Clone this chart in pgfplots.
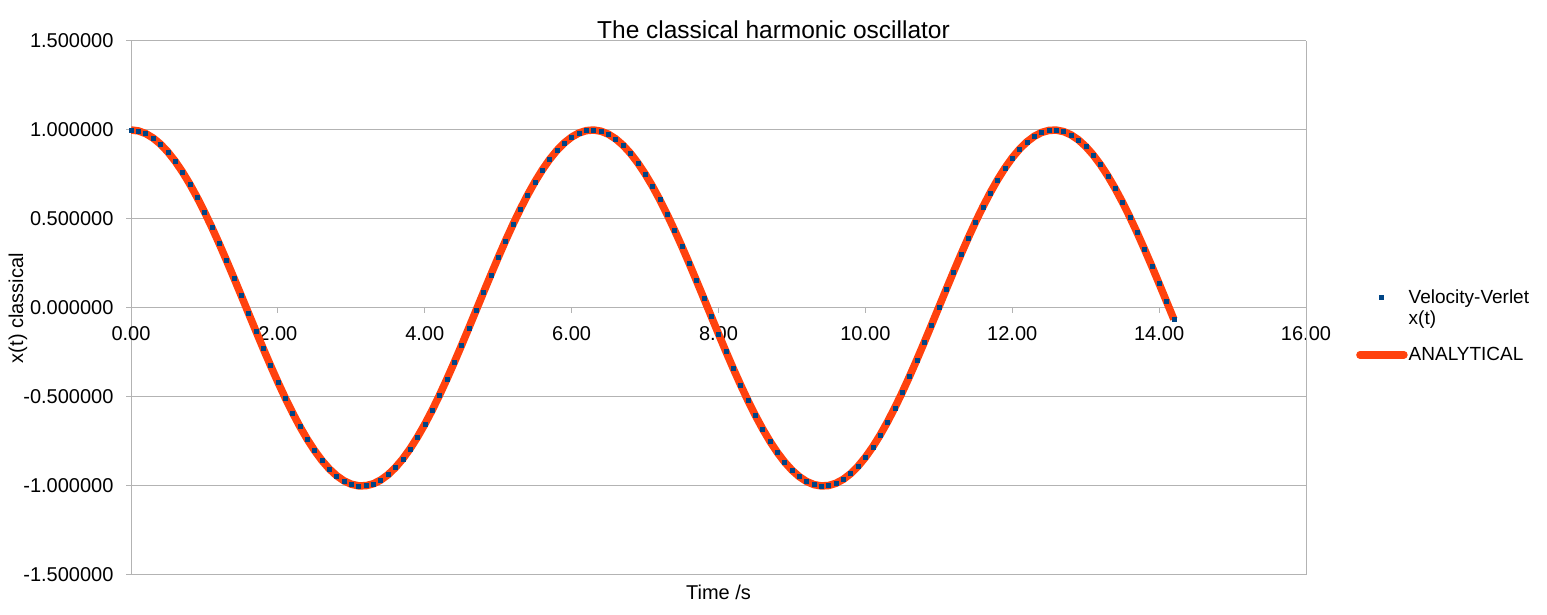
\documentclass[border=0pt]{standalone}
\usepackage{fontspec}
\setmainfont{Liberation Sans}
\usepackage{pgfplots}
\usepackage{pgfplotstable}
\pgfplotsset{compat=1.18}
\definecolor{vvblue}{HTML}{004586}
\definecolor{anorange}{HTML}{FF420E}
\definecolor{gridgray}{HTML}{B3B3B3}

\pgfplotsset{
    leganal/.style={legend image code/.code={\draw[##1, line cap=round] (0pt,0pt) -- (44pt,0pt);}},
    legverlet/.style={legend image code/.code={\path[draw=none] (0pt,0pt) -- (44pt,0pt);
        \draw[##1] plot coordinates {(21pt,11pt)};}},
}

% t, x(t) -- the Verlet points and the analytical curve coincide at this scale
\pgfplotstableread{
t x
0.0 1.0000
0.1 0.9950
0.2 0.9801
0.3 0.9553
0.4 0.9211
0.5 0.8776
0.6 0.8253
0.7 0.7648
0.8 0.6967
0.9 0.6216
1.0 0.5403
1.1 0.4536
1.2 0.3624
1.3 0.2675
1.4 0.1700
1.5 0.0707
1.6 -0.0292
1.7 -0.1288
1.8 -0.2272
1.9 -0.3233
2.0 -0.4161
2.1 -0.5048
2.2 -0.5885
2.3 -0.6663
2.4 -0.7374
2.5 -0.8011
2.6 -0.8569
2.7 -0.9041
2.8 -0.9422
2.9 -0.9710
3.0 -0.9900
3.1 -0.9991
3.2 -0.9983
3.3 -0.9875
3.4 -0.9668
3.5 -0.9365
3.6 -0.8968
3.7 -0.8481
3.8 -0.7910
3.9 -0.7259
4.0 -0.6536
4.1 -0.5748
4.2 -0.4903
4.3 -0.4008
4.4 -0.3073
4.5 -0.2108
4.6 -0.1122
4.7 -0.0124
4.8 0.0875
4.9 0.1865
5.0 0.2837
5.1 0.3780
5.2 0.4685
5.3 0.5544
5.4 0.6347
5.5 0.7087
5.6 0.7756
5.7 0.8347
5.8 0.8855
5.9 0.9275
6.0 0.9602
6.1 0.9833
6.2 0.9965
6.3 0.9999
6.4 0.9932
6.5 0.9766
6.6 0.9502
6.7 0.9144
6.8 0.8694
6.9 0.8157
7.0 0.7539
7.1 0.6845
7.2 0.6084
7.3 0.5261
7.4 0.4385
7.5 0.3466
7.6 0.2513
7.7 0.1534
7.8 0.0540
7.9 -0.0460
8.0 -0.1455
8.1 -0.2435
8.2 -0.3392
8.3 -0.4314
8.4 -0.5193
8.5 -0.6020
8.6 -0.6787
8.7 -0.7486
8.8 -0.8111
8.9 -0.8654
9.0 -0.9111
9.1 -0.9477
9.2 -0.9748
9.3 -0.9922
9.4 -0.9997
9.5 -0.9972
9.6 -0.9847
9.7 -0.9624
9.8 -0.9304
9.9 -0.8892
10.0 -0.8391
10.1 -0.7806
10.2 -0.7143
10.3 -0.6408
10.4 -0.5610
10.5 -0.4755
10.6 -0.3853
10.7 -0.2913
10.8 -0.1943
10.9 -0.0954
11.0 0.0044
11.1 0.1042
11.2 0.2030
11.3 0.2997
11.4 0.3935
11.5 0.4833
11.6 0.5683
11.7 0.6476
11.8 0.7204
11.9 0.7861
12.0 0.8439
12.1 0.8932
12.2 0.9336
12.3 0.9647
12.4 0.9862
12.5 0.9978
12.6 0.9994
12.7 0.9911
12.8 0.9728
12.9 0.9449
13.0 0.9074
13.1 0.8610
13.2 0.8059
13.3 0.7428
13.4 0.6722
13.5 0.5949
13.6 0.5117
13.7 0.4234
13.8 0.3308
13.9 0.2349
14.0 0.1367
14.1 0.0372
14.2 -0.0628
}\oscdata

\begin{document}
\begin{tikzpicture}
\useasboundingbox (0pt,0pt) rectangle (1547pt,615pt);
\begin{axis}[
    at={(131pt,40pt)}, anchor=south west,
    scale only axis, width=1175pt, height=534pt,
    xmin=0, xmax=16, ymin=-1.5, ymax=1.5,
    axis x line=middle, axis y line=left,
    axis line style={draw=gridgray, line width=1pt, -},
    hide obscured x ticks=false, hide obscured y ticks=false,
    xtick={0,2,4,6,8,10,12,14,16},
    ytick={-1.5,-1,-0.5,0,0.5,1,1.5},
    tick align=outside, major tick length=5pt,
    tick style={draw=gridgray, line width=1pt},
    ymajorgrids,
    major grid style={draw=gridgray, line width=1pt},
    extra x ticks={16}, extra x tick labels={},
    extra x tick style={grid=major, major tick length=0pt},
    /pgf/number format/assume math mode=true,
    tick label style={font=\fontsize{20pt}{24pt}\selectfont},
    xticklabel style={yshift=-10pt,
        /pgf/number format/.cd, fixed, fixed zerofill, precision=2},
    yticklabel style={xshift=-9pt,
        /pgf/number format/.cd, fixed, fixed zerofill, precision=6},
    title={The classical harmonic oscillator},
    title style={at={(axis description cs:0.5,1)}, anchor=base, xshift=55pt, yshift=-4pt,
        font=\fontsize{24.5pt}{28pt}\selectfont},
    xlabel={Time /s},
    xlabel style={at={(axis description cs:0.5,0)}, anchor=base, yshift=-25pt,
        font=\fontsize{20pt}{24pt}\selectfont},
    ylabel={x(t) classical},
    ylabel style={at={(axis description cs:-0.0962,0.5)}, anchor=center,
        font=\fontsize{20pt}{24pt}\selectfont},
    reverse legend,
    legend cell align=left,
    legend style={at={(axis description cs:1.040,0.5395)}, anchor=north west,
        draw=none, fill=none, font=\fontsize{19pt}{21pt}\selectfont,
        nodes={align=left, inner sep=1pt}, row sep=19pt},
]
\addplot[anorange, line width=7.5pt, line join=round, no markers, leganal]
    table[x=t, y=x] {\oscdata};
\addlegendentry{ANALYTICAL}
\addplot[only marks, mark=square*, mark size=2pt, vvblue, legverlet]
    table[x=t, y=x] {\oscdata};
\addlegendentry{Velocity-Verlet\\x(t)}
\end{axis}
\end{tikzpicture}
\end{document}
